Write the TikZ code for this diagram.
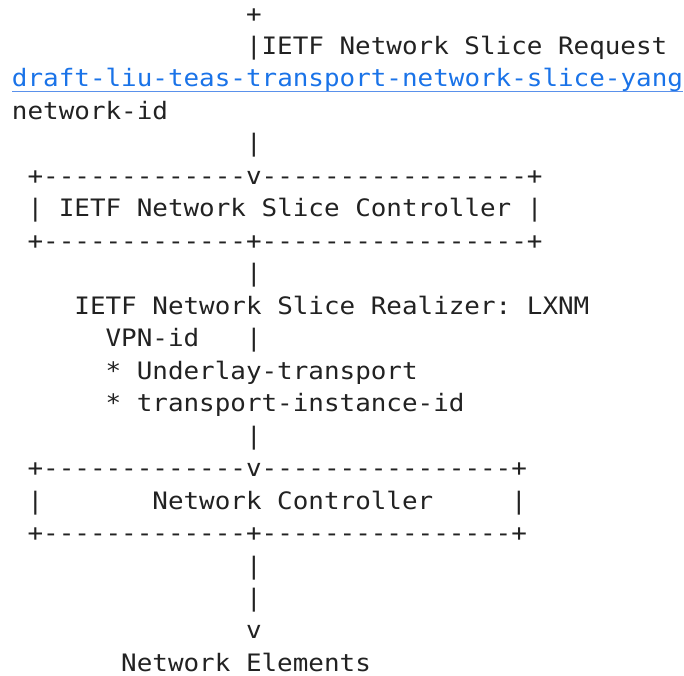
\documentclass[tikz,border=0pt]{standalone}
\usepackage{fontspec}
\setmonofont{DejaVu Sans Mono}[FakeStretch=1.08]
\definecolor{ink}{RGB}{34,34,34}
\definecolor{linkblue}{RGB}{26,115,232}
\definecolor{linkline}{RGB}{90,145,235}
\newcommand{\asc}[5]{\node[#1] (#2) at ({12+15.6*#3},{22+32.47*(#4-1)}) {#5};}
\begin{document}
\begin{tikzpicture}[x=1pt,y=-1pt,
  txt/.style={anchor=base west,inner sep=0pt,outer sep=0pt,text depth=0pt,font=\ttfamily\fontsize{24}{28}\selectfont,text=ink},
  lnk/.style={txt,text=linkblue},
  ul/.style={draw=linkline,line width=0.9pt}]
\useasboundingbox (0,0) rectangle (684,675);
\asc{txt}{l1}{15}{1}{+}
\asc{txt}{l2}{15}{2}{|IETF Network Slice Request}
\asc{lnk}{link}{0}{3}{draft-liu-teas-transport-network-slice-yang}
\draw[ul] ([yshift=-4.5pt]link.base west) -- ([yshift=-4.5pt]link.base east);
\asc{txt}{l4}{0}{4}{network-id}
\asc{txt}{l5}{15}{5}{|}
\asc{txt}{l6}{1}{6}{+-------------v-----------------+}
\asc{txt}{l7}{1}{7}{| IETF Network Slice Controller |}
\asc{txt}{l8}{1}{8}{+-------------+-----------------+}
\asc{txt}{l9}{15}{9}{|}
\asc{txt}{l10}{4}{10}{IETF Network Slice Realizer: LXNM}
\asc{txt}{l11a}{6}{11}{VPN-id}
\asc{txt}{l11b}{15}{11}{|}
\asc{txt}{l12}{6}{12}{* Underlay-transport}
\asc{txt}{l13}{6}{13}{* transport-instance-id}
\asc{txt}{l14}{15}{14}{|}
\asc{txt}{l15}{1}{15}{+-------------v----------------+}
\asc{txt}{l16a}{1}{16}{|}
\asc{txt}{l16b}{9}{16}{Network Controller}
\asc{txt}{l16c}{32}{16}{|}
\asc{txt}{l17}{1}{17}{+-------------+----------------+}
\asc{txt}{l18}{15}{18}{|}
\asc{txt}{l19}{15}{19}{|}
\asc{txt}{l20}{15}{20}{v}
\asc{txt}{l21}{7}{21}{Network Elements}
\end{tikzpicture}
\end{document}
